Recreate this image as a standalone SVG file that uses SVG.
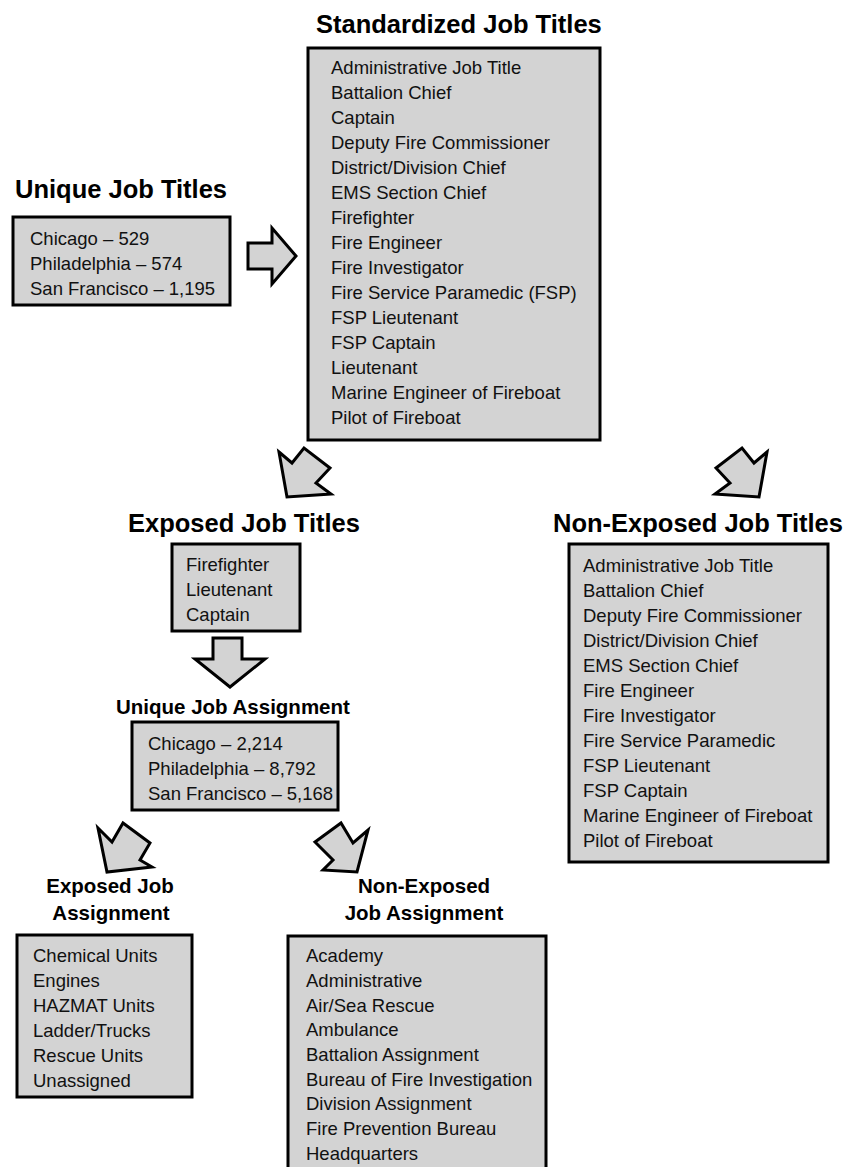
<svg xmlns="http://www.w3.org/2000/svg" width="845" height="1167" viewBox="0 0 845 1167">
<style>
.box{fill:#d3d3d3;stroke:#000;stroke-width:3}
.arr{fill:#d3d3d3;stroke:#000;stroke-width:3;stroke-linejoin:miter}
.h1{font-family:"Liberation Sans",Arial,sans-serif;font-weight:bold;font-size:25.5px;fill:#000}
.h2{font-family:"Liberation Sans",Arial,sans-serif;font-weight:bold;font-size:20.5px;fill:#000}
.t{font-family:"Liberation Sans",Arial,sans-serif;font-size:18.5px;fill:#111}
</style>
<rect width="845" height="1167" fill="#fff"/>
<g id="unique-job-titles">
<text class="h1" x="15" y="198">Unique Job Titles</text>
<rect class="box" x="13" y="217" width="217" height="88"/>
<text class="t" x="30" y="245">Chicago – 529</text>
<text class="t" x="30" y="270">Philadelphia – 574</text>
<text class="t" x="30" y="295">San Francisco – 1,195</text>
</g>
<g id="standardized-job-titles">
<text class="h1" x="316" y="33">Standardized Job Titles</text>
<rect class="box" x="308" y="48" width="292" height="392"/>
<text class="t" x="331" y="74">Administrative Job Title</text>
<text class="t" x="331" y="99">Battalion Chief</text>
<text class="t" x="331" y="124">Captain</text>
<text class="t" x="331" y="149">Deputy Fire Commissioner</text>
<text class="t" x="331" y="174">District/Division Chief</text>
<text class="t" x="331" y="199">EMS Section Chief</text>
<text class="t" x="331" y="224">Firefighter</text>
<text class="t" x="331" y="249">Fire Engineer</text>
<text class="t" x="331" y="274">Fire Investigator</text>
<text class="t" x="331" y="299">Fire Service Paramedic (FSP)</text>
<text class="t" x="331" y="324">FSP Lieutenant</text>
<text class="t" x="331" y="349">FSP Captain</text>
<text class="t" x="331" y="374">Lieutenant</text>
<text class="t" x="331" y="399">Marine Engineer of Fireboat</text>
<text class="t" x="331" y="424">Pilot of Fireboat</text>
</g>
<g id="exposed-job-titles">
<text class="h1" x="128" y="532">Exposed Job Titles</text>
<rect class="box" x="172" y="544" width="128" height="87"/>
<text class="t" x="186" y="571">Firefighter</text>
<text class="t" x="186" y="596">Lieutenant</text>
<text class="t" x="186" y="621">Captain</text>
</g>
<g id="non-exposed-job-titles">
<text class="h1" x="553" y="532">Non-Exposed Job Titles</text>
<rect class="box" x="569" y="544" width="259" height="318"/>
<text class="t" x="583" y="572">Administrative Job Title</text>
<text class="t" x="583" y="597">Battalion Chief</text>
<text class="t" x="583" y="622">Deputy Fire Commissioner</text>
<text class="t" x="583" y="647">District/Division Chief</text>
<text class="t" x="583" y="672">EMS Section Chief</text>
<text class="t" x="583" y="697">Fire Engineer</text>
<text class="t" x="583" y="722">Fire Investigator</text>
<text class="t" x="583" y="747">Fire Service Paramedic</text>
<text class="t" x="583" y="772">FSP Lieutenant</text>
<text class="t" x="583" y="797">FSP Captain</text>
<text class="t" x="583" y="822">Marine Engineer of Fireboat</text>
<text class="t" x="583" y="847">Pilot of Fireboat</text>
</g>
<g id="unique-job-assignment">
<text class="h2" x="116" y="714">Unique Job Assignment</text>
<rect class="box" x="132" y="722" width="206" height="88"/>
<text class="t" x="148" y="750">Chicago – 2,214</text>
<text class="t" x="148" y="775">Philadelphia – 8,792</text>
<text class="t" x="148" y="800">San Francisco – 5,168</text>
</g>
<g id="exposed-job-assignment">
<text class="h2" x="110" y="893" text-anchor="middle">Exposed Job</text>
<text class="h2" x="111" y="920" text-anchor="middle">Assignment</text>
<rect class="box" x="17" y="935" width="175" height="162"/>
<text class="t" x="33" y="962">Chemical Units</text>
<text class="t" x="33" y="987">Engines</text>
<text class="t" x="33" y="1012">HAZMAT Units</text>
<text class="t" x="33" y="1037">Ladder/Trucks</text>
<text class="t" x="33" y="1062">Rescue Units</text>
<text class="t" x="33" y="1087">Unassigned</text>
</g>
<g id="non-exposed-job-assignment">
<text class="h2" x="424" y="893" text-anchor="middle">Non-Exposed</text>
<text class="h2" x="424" y="920" text-anchor="middle">Job Assignment</text>
<rect class="box" x="288" y="936" width="258" height="250"/>
<text class="t" x="306" y="962">Academy</text>
<text class="t" x="306" y="987">Administrative</text>
<text class="t" x="306" y="1012">Air/Sea Rescue</text>
<text class="t" x="306" y="1036">Ambulance</text>
<text class="t" x="306" y="1061">Battalion Assignment</text>
<text class="t" x="306" y="1086">Bureau of Fire Investigation</text>
<text class="t" x="306" y="1110">Division Assignment</text>
<text class="t" x="306" y="1135">Fire Prevention Bureau</text>
<text class="t" x="306" y="1160">Headquarters</text>
</g>
<g id="connectors">
<polygon class="arr" points="248,243 272,243 272,228 296,256 272,284 272,269 248,269"/>
<polygon class="arr" points="279,452 292,463 304,448 330,468 316,483 331,494 287,497"/>
<polygon class="arr" points="767,452 754,463 742,448 716,468 730,483 715,494 759,497"/>
<polygon class="arr" points="213,638 242,638 242,659 265,659 230,687 195,659 213,659"/>
<polygon class="arr" points="98,828 112,842 123,823 150,843 140,860 152,867 107,872"/>
<polygon class="arr" points="315,842 341,823 353,843 368,830 357,872 323,870 333,860"/>
</g>
</svg>
